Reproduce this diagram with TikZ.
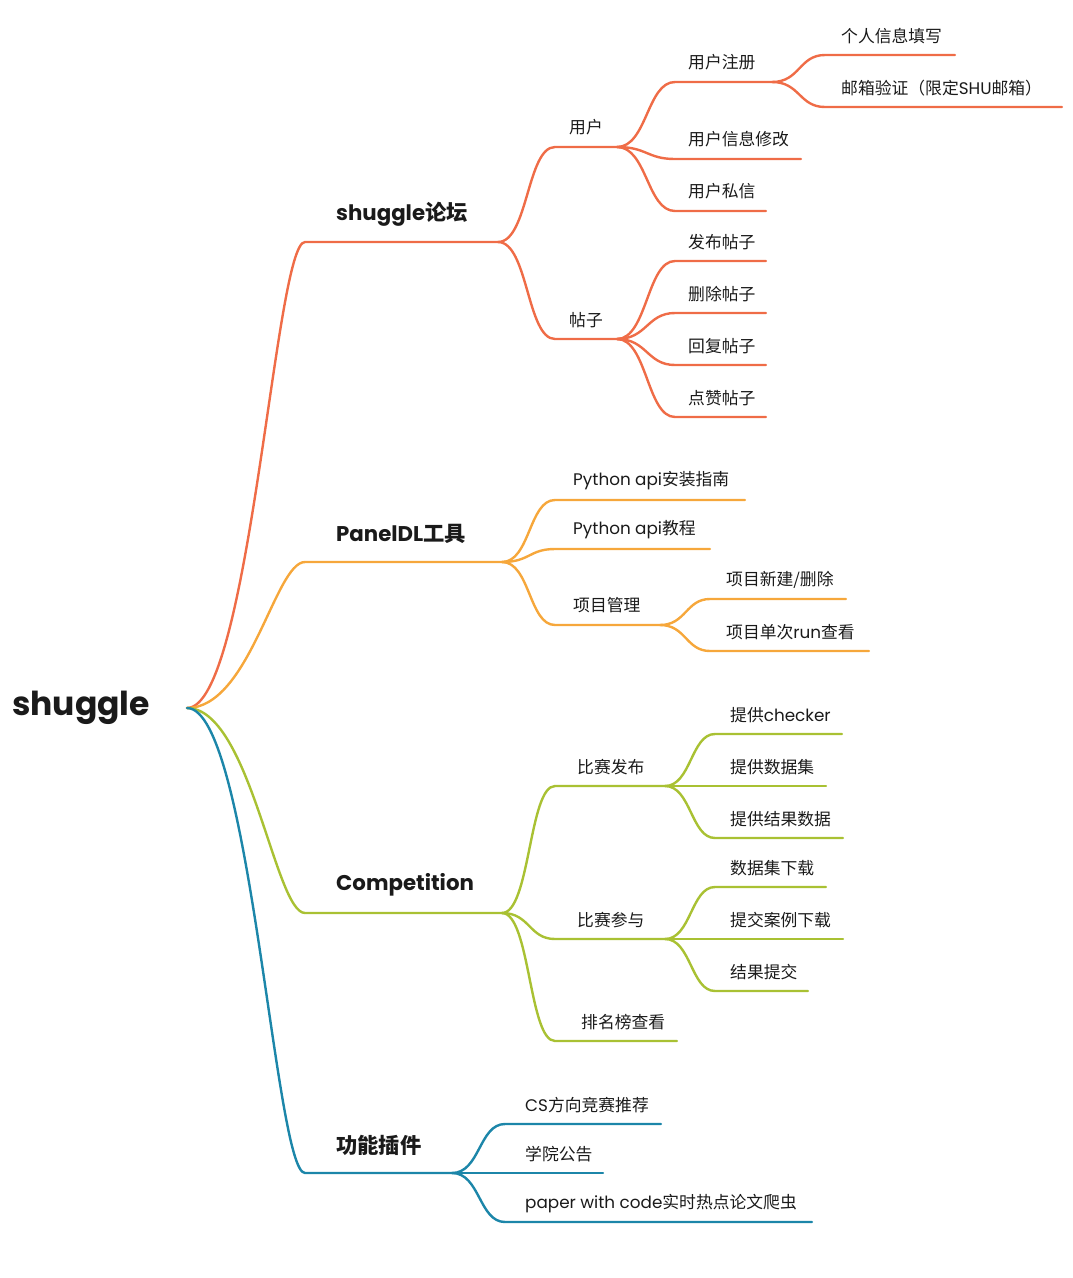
\documentclass[tikz,border=0pt]{standalone}
\usepackage{fontspec}
\setmainfont{Poppins}
\newfontfamily\cjk{Noto Sans CJK SC}
\newcommand\zh[1]{{\cjk #1}}
\definecolor{ink}{HTML}{1A1A1A}
\definecolor{cA}{HTML}{EF6C47}
\definecolor{cB}{HTML}{F6A73B}
\definecolor{cC}{HTML}{A9C133}
\definecolor{cD}{HTML}{1C86A9}
\tikzset{
  lab/.style={anchor=west, inner sep=0pt, text=ink, font=\fontsize{16.8}{19}\selectfont},
  lone/.style={lab, font=\fontsize{21.3}{24}\selectfont\bfseries},
  rootlab/.style={lab, font=\fontsize{33}{37}\selectfont\bfseries},
  ln/.style={line width=2.4pt, line cap=round},
}
\begin{document}
\begin{tikzpicture}[x=1pt,y=-1pt]
\useasboundingbox (0,0) rectangle (1072,1278);
% root
\node[rootlab] (root) at (12,708) {shuggle};
\coordinate (o) at (187,708);

% ===== A: shuggle论坛 =====
\coordinate (As) at (305,242); \coordinate (Ae) at (498,242);
\node[lone] (A) at (336,214) {shuggle\zh{论坛}};
\draw[ln,cA] (o) .. controls +(63,0) and +(-30,0) .. (As) -- (Ae);
% 用户
\coordinate (A1s) at (555,147); \coordinate (A1e) at (617,147);
\node[lab] (A1) at (569,127) {\zh{用户}};
\draw[ln,cA] (Ae) .. controls +(30,0) and +(-28,0) .. (A1s) -- (A1e);
% 用户注册
\coordinate (A1as) at (675,82); \coordinate (A1ae) at (772,82);
\node[lab] (A1a) at (688,62) {\zh{用户注册}};
\draw[ln,cA] (A1e) .. controls +(30,0) and +(-28,0) .. (A1as) -- (A1ae);
\coordinate (A1a1s) at (825,55); \coordinate (A1a1e) at (955,55);
\node[lab] (A1a1) at (841,36) {\zh{个人信息填写}};
\draw[ln,cA] (A1ae) .. controls +(28,0) and +(-26,0) .. (A1a1s) -- (A1a1e);
\coordinate (A1a2s) at (825,107); \coordinate (A1a2e) at (1062,107);
\node[lab] (A1a2) at (841,88) {\zh{邮箱验证（限定}SHU\zh{邮箱）}};
\draw[ln,cA] (A1ae) .. controls +(28,0) and +(-26,0) .. (A1a2s) -- (A1a2e);
% 用户信息修改
\coordinate (A1bs) at (675,159); \coordinate (A1be) at (801,159);
\node[lab] (A1b) at (688,139) {\zh{用户信息修改}};
\draw[ln,cA] (A1e) .. controls +(30,0) and +(-28,0) .. (A1bs) -- (A1be);
% 用户私信
\coordinate (A1cs) at (675,211); \coordinate (A1ce) at (766,211);
\node[lab] (A1c) at (688,191) {\zh{用户私信}};
\draw[ln,cA] (A1e) .. controls +(30,0) and +(-28,0) .. (A1cs) -- (A1ce);
% 帖子
\coordinate (A2s) at (555,339); \coordinate (A2e) at (617,339);
\node[lab] (A2) at (569,320) {\zh{帖子}};
\draw[ln,cA] (Ae) .. controls +(30,0) and +(-28,0) .. (A2s) -- (A2e);
\coordinate (A2as) at (675,261); \coordinate (A2ae) at (766,261);
\node[lab] (A2a) at (688,242) {\zh{发布帖子}};
\draw[ln,cA] (A2e) .. controls +(30,0) and +(-28,0) .. (A2as) -- (A2ae);
\coordinate (A2bs) at (675,313); \coordinate (A2be) at (766,313);
\node[lab] (A2b) at (688,294) {\zh{删除帖子}};
\draw[ln,cA] (A2e) .. controls +(30,0) and +(-28,0) .. (A2bs) -- (A2be);
\coordinate (A2cs) at (675,365); \coordinate (A2ce) at (766,365);
\node[lab] (A2c) at (688,346) {\zh{回复帖子}};
\draw[ln,cA] (A2e) .. controls +(30,0) and +(-28,0) .. (A2cs) -- (A2ce);
\coordinate (A2ds) at (675,417); \coordinate (A2de) at (766,417);
\node[lab] (A2d) at (688,398) {\zh{点赞帖子}};
\draw[ln,cA] (A2e) .. controls +(30,0) and +(-28,0) .. (A2ds) -- (A2de);

% ===== B: PanelDL工具 =====
\coordinate (Bs) at (305,562); \coordinate (Be) at (502,562);
\node[lone] (B) at (336,534) {PanelDL\zh{工具}};
\draw[ln,cB] (o) .. controls +(63,0) and +(-30,0) .. (Bs) -- (Be);
\coordinate (B1s) at (555,500); \coordinate (B1e) at (745,500);
\node[lab] (B1) at (573,481) {Python api\zh{安装指南}};
\draw[ln,cB] (Be) .. controls +(28,0) and +(-26,0) .. (B1s) -- (B1e);
\coordinate (B2s) at (555,549); \coordinate (B2e) at (710,549);
\node[lab] (B2) at (573,530) {Python api\zh{教程}};
\draw[ln,cB] (Be) .. controls +(28,0) and +(-26,0) .. (B2s) -- (B2e);
\coordinate (B3s) at (555,625); \coordinate (B3e) at (660,625);
\node[lab] (B3) at (573,605) {\zh{项目管理}};
\draw[ln,cB] (Be) .. controls +(28,0) and +(-26,0) .. (B3s) -- (B3e);
\coordinate (B3as) at (710,599); \coordinate (B3ae) at (846,599);
\node[lab] (B3a) at (726,580) {\zh{项目新建/删除}};
\draw[ln,cB] (B3e) .. controls +(26,0) and +(-24,0) .. (B3as) -- (B3ae);
\coordinate (B3bs) at (710,651); \coordinate (B3be) at (869,651);
\node[lab] (B3b) at (726,632) {\zh{项目单次}run\zh{查看}};
\draw[ln,cB] (B3e) .. controls +(26,0) and +(-24,0) .. (B3bs) -- (B3be);

% ===== C: Competition =====
\coordinate (Cs) at (305,913); \coordinate (Ce) at (502,913);
\node[lone] (C) at (336,885) {Competition};
\draw[ln,cC] (o) .. controls +(63,0) and +(-30,0) .. (Cs) -- (Ce);
\coordinate (C1s) at (555,786); \coordinate (C1e) at (665,786);
\node[lab] (C1) at (577,767) {\zh{比赛发布}};
\draw[ln,cC] (Ce) .. controls +(28,0) and +(-26,0) .. (C1s) -- (C1e);
\coordinate (C1as) at (715,734); \coordinate (C1ae) at (842,734);
\node[lab] (C1a) at (730,715) {\zh{提供}checker};
\draw[ln,cC] (C1e) .. controls +(26,0) and +(-24,0) .. (C1as) -- (C1ae);
\coordinate (C1bs) at (715,786); \coordinate (C1be) at (826,786);
\node[lab] (C1b) at (730,767) {\zh{提供数据集}};
\draw[ln,cC] (C1e) -- (C1bs) -- (C1be);
\coordinate (C1cs) at (715,838); \coordinate (C1ce) at (843,838);
\node[lab] (C1c) at (730,819) {\zh{提供结果数据}};
\draw[ln,cC] (C1e) .. controls +(26,0) and +(-24,0) .. (C1cs) -- (C1ce);
\coordinate (C2s) at (555,939); \coordinate (C2e) at (665,939);
\node[lab] (C2) at (577,920) {\zh{比赛参与}};
\draw[ln,cC] (Ce) .. controls +(28,0) and +(-26,0) .. (C2s) -- (C2e);
\coordinate (C2as) at (715,887); \coordinate (C2ae) at (826,887);
\node[lab] (C2a) at (730,868) {\zh{数据集下载}};
\draw[ln,cC] (C2e) .. controls +(26,0) and +(-24,0) .. (C2as) -- (C2ae);
\coordinate (C2bs) at (715,939); \coordinate (C2be) at (843,939);
\node[lab] (C2b) at (730,920) {\zh{提交案例下载}};
\draw[ln,cC] (C2e) -- (C2bs) -- (C2be);
\coordinate (C2cs) at (715,991); \coordinate (C2ce) at (808,991);
\node[lab] (C2c) at (730,972) {\zh{结果提交}};
\draw[ln,cC] (C2e) .. controls +(26,0) and +(-24,0) .. (C2cs) -- (C2ce);
\coordinate (C3s) at (555,1041); \coordinate (C3e) at (677,1041);
\node[lab] (C3) at (581,1022) {\zh{排名榜查看}};
\draw[ln,cC] (Ce) .. controls +(28,0) and +(-26,0) .. (C3s) -- (C3e);

% ===== D: 功能插件 =====
\coordinate (Ds) at (305,1173); \coordinate (De) at (452,1173);
\node[lone] (D) at (336,1145) {\zh{功能插件}};
\draw[ln,cD] (o) .. controls +(63,0) and +(-30,0) .. (Ds) -- (De);
\coordinate (D1s) at (505,1124); \coordinate (D1e) at (661,1124);
\node[lab] (D1) at (525,1105) {CS\zh{方向竞赛推荐}};
\draw[ln,cD] (De) .. controls +(28,0) and +(-26,0) .. (D1s) -- (D1e);
\coordinate (D2s) at (505,1173); \coordinate (D2e) at (603,1173);
\node[lab] (D2) at (525,1154) {\zh{学院公告}};
\draw[ln,cD] (De) -- (D2s) -- (D2e);
\coordinate (D3s) at (505,1222); \coordinate (D3e) at (812,1222);
\node[lab] (D3) at (525,1204) {paper with code\zh{实时热点论文爬虫}};
\draw[ln,cD] (De) .. controls +(28,0) and +(-26,0) .. (D3s) -- (D3e);
\end{tikzpicture}
\end{document}
